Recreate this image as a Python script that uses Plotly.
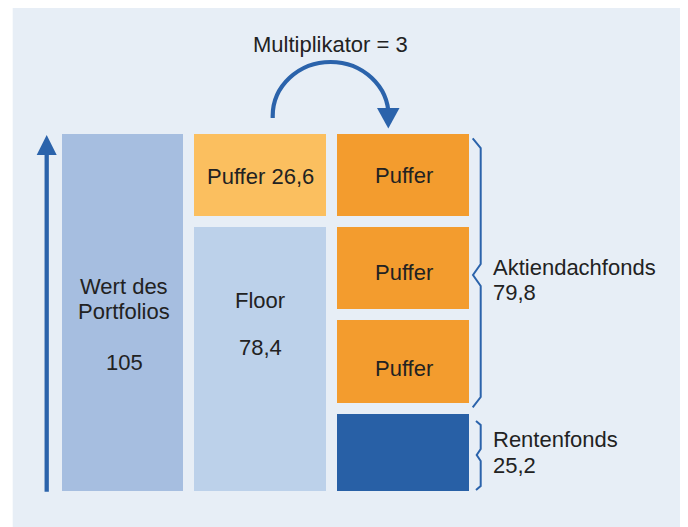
import plotly.graph_objects as go

# ---------------- data ----------------
portfolio_label = ["Wert des", "Portfolios"]
portfolio_value = 105
floor_label = "Floor"
floor_value = 78.4
puffer_label = "Puffer"
puffer_value = 26.6
multiplier = 3
fund_labels = ["Aktiendachfonds", "Rentenfonds"]
fund_values = [79.8, 25.2]   # Aktien = multiplier * puffer

def de(v):
    s = f"{v:.1f}".replace(".", ",")
    return s[:-2] if s.endswith(",0") else s

# ---------------- geometry (page-pixel x, value y) ----------------
PAGE_W, PAGE_H = 688, 527
OFF = 8                     # default body margin of the page
W, H = PAGE_W - OFF, PAGE_H - OFF
Y0_PX, Y105_PX = 497.2, 128.5
S = (Y0_PX - Y105_PX) / portfolio_value
y_top = (Y0_PX - OFF) / S
y_bot = -(PAGE_H - Y0_PX) / S

def P(px):  # page pixel row -> paper y
    return 1 - (px - OFF) / H

BG = "#e7eef6"
BLUE = "#2b63ab"
TXT = "#222222"
GAP = 11

col_x = [124, 260, 403.5]
col_w = [123.4 + GAP, 132 + GAP, 131.5 + GAP]

fig = go.Figure()

def bar(x, w, base, h, color):
    fig.add_trace(go.Bar(
        x=[x], y=[h], base=[base], width=[w],
        marker=dict(color=color, line=dict(color=BG, width=GAP)),
        showlegend=False, hoverinfo="skip"))

# column 1: portfolio value
bar(col_x[0], col_w[0], 0, portfolio_value, "#a6bee0")
# column 2: floor + puffer
bar(col_x[1], col_w[1], 0, floor_value, "#bcd1ea")
bar(col_x[1], col_w[1], floor_value, puffer_value, "#fbbf5f")
# column 3: Rentenfonds + multiplier * puffer
bar(col_x[2], col_w[2], 0, fund_values[1], "#2860a6")
for i in range(multiplier):
    bar(col_x[2], col_w[2], fund_values[1] + i * fund_values[0] / multiplier,
        fund_values[0] / multiplier, "#f39c2e")

shapes = []
# background panel
shapes.append(dict(type="rect", xref="x", yref="paper", x0=12.7, x1=683.5,
                   y0=P(530), y1=P(7.5), fillcolor=BG, line=dict(width=0), layer="below"))

def path(pts, close=False):
    s = "M " + " L ".join(f"{x},{P(y)}" for x, y in pts)
    return s + (" Z" if close else "")

# vertical arrow
shapes.append(dict(type="path", xref="x", yref="paper",
                   path=path([(46.7, 491.7), (46.7, 152)]),
                   line=dict(color=BLUE, width=4.3)))
shapes.append(dict(type="path", xref="x", yref="paper",
                   path=path([(36.7, 155), (56.7, 155), (46.7, 135)], True),
                   fillcolor=BLUE, line=dict(width=0)))

# curved arrow
xl, xr = 272.7, 388.5
cx, rx = (xl + xr) / 2, (xr - xl) / 2
cy, ry = 116, 54
k = 0.5523
arc = (f"M {xl},{P(118)} L {xl},{P(cy)} "
       f"C {xl},{P(cy - k * ry)} {cx - k * rx},{P(cy - ry)} {cx},{P(cy - ry)} "
       f"C {cx + k * rx},{P(cy - ry)} {xr},{P(cy - k * ry)} {xr},{P(cy)} "
       f"L {xr},{P(110)}")
shapes.append(dict(type="path", xref="x", yref="paper", path=arc,
                   line=dict(color=BLUE, width=4.2)))
shapes.append(dict(type="path", xref="x", yref="paper",
                   path=path([(377, 108), (399.5, 108), (388.3, 128.5)], True),
                   fillcolor=BLUE, line=dict(width=0)))

# braces
shapes.append(dict(type="path", xref="x", yref="paper",
                   path=path([(472.7, 138.3), (480.7, 148), (480.7, 264), (473, 275),
                              (480.7, 286), (480.7, 397), (472.7, 407.3)]),
                   line=dict(color=BLUE, width=2)))
shapes.append(dict(type="path", xref="x", yref="paper",
                   path=path([(476, 421), (480.7, 425), (480.7, 449), (476.7, 455),
                              (480.7, 461), (480.7, 486), (476, 490)]),
                   line=dict(color=BLUE, width=2)))

ann = []
def text(x, y, t, anchor="center"):
    ann.append(dict(x=x, y=P(y), xref="x", yref="paper", text=t, showarrow=False,
                    xanchor=anchor, yanchor="middle",
                    font=dict(family="Liberation Sans, Arial, sans-serif", size=22, color=TXT)))

text(330, 45, f"Multiplikator = {multiplier}")
text(col_x[0], 286, portfolio_label[0])
text(col_x[0], 311, portfolio_label[1])
text(col_x[0], 362, de(portfolio_value))
text(col_x[1], 176, f"{puffer_label} {de(puffer_value)}")
text(col_x[1], 300, floor_label)
text(col_x[1], 347, de(floor_value))
for yy in (175, 272, 368):
    text(col_x[2], yy, puffer_label)
text(491, 267, fund_labels[0], "left")
text(491, 292, de(fund_values[0]), "left")
text(491, 439, fund_labels[1], "left")
text(491, 465, de(fund_values[1]), "left")

fig.update_layout(
    width=W, height=H, margin=dict(l=0, r=0, t=0, b=0),
    paper_bgcolor="white", plot_bgcolor="white",
    barmode="overlay", bargap=0,
    xaxis=dict(range=[OFF, PAGE_W], visible=False, fixedrange=True),
    yaxis=dict(range=[y_bot, y_top], visible=False, fixedrange=True),
    shapes=shapes, annotations=ann,
)
fig.write_html("out.html", config={"displayModeBar": False})
